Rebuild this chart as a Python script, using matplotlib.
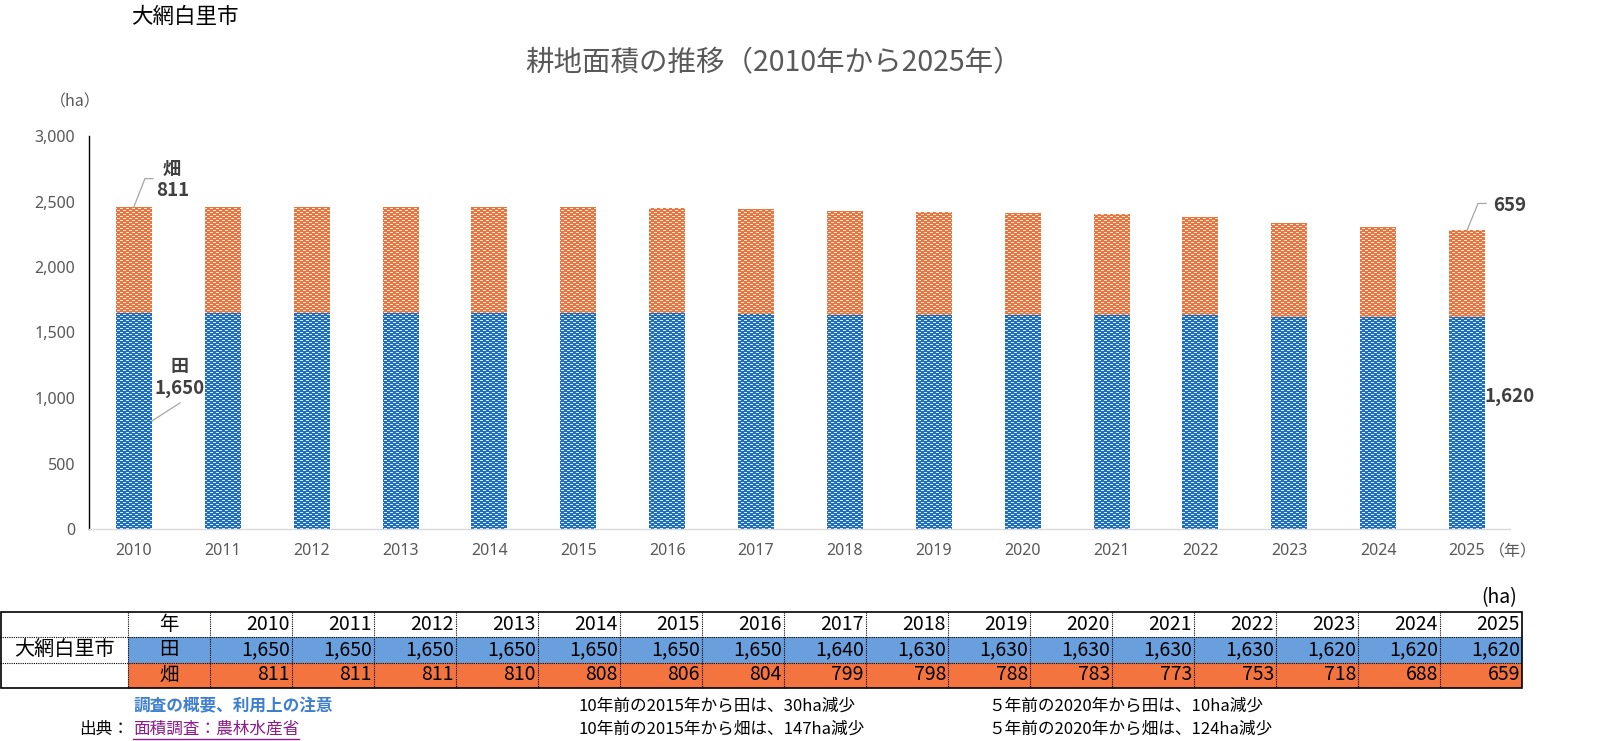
import numpy as np
import matplotlib
matplotlib.use('Agg')
import matplotlib.pyplot as plt

# ---------------- data ----------------
years = [2010, 2011, 2012, 2013, 2014, 2015, 2016, 2017,
         2018, 2019, 2020, 2021, 2022, 2023, 2024, 2025]
paddy = [1650, 1650, 1650, 1650, 1650, 1650, 1650, 1640,
         1630, 1630, 1630, 1630, 1630, 1620, 1620, 1620]   # 田
field = [811, 811, 811, 810, 808, 806, 804, 799,
         798, 788, 783, 773, 753, 718, 688, 659]           # 畑
yticks = [0, 500, 1000, 1500, 2000, 2500, 3000]
city = '大網白里市'
title = '耕地面積の推移（2010年から2025年）'
notes = ['10年前の2015年から田は、30ha減少', '10年前の2015年から畑は、147ha減少',
         '５年前の2020年から田は、10ha減少', '５年前の2020年から畑は、124ha減少']

CJK = ['Noto Sans CJK JP', 'DejaVu Sans']
plt.rcParams['font.family'] = CJK

W, H = 1604, 741
fig = plt.figure(figsize=(W / 100, H / 100), dpi=100)
fig.patch.set_facecolor('white')

BLUE = '#1f6fbf'
ORANGE = '#e9753f'
TBLUE = '#6a9fdd'
TORANGE = '#f47440'
GRAY = '#595959'

ax = fig.add_axes([89 / W, 212 / H, 1421 / W, 393 / H])
x = np.arange(len(years))
bw = 0.405
bars1 = ax.bar(x, paddy, width=bw, color=BLUE, linewidth=0, zorder=2)
bars2 = ax.bar(x, field, bottom=paddy, width=bw, color=ORANGE, linewidth=0, zorder=2)

ax.set_xlim(-0.506, 15.484)
ax.set_ylim(0, 3000)
ax.set_yticks(yticks)
ax.set_yticklabels([f'{v:,}' for v in yticks], family='Noto Sans', fontsize=11.5, color=GRAY)
ax.set_xticks(x)
ax.set_xticklabels([str(y) for y in years], family='Noto Sans', fontsize=11.5, color=GRAY)
ax.tick_params(axis='y', length=0, pad=10)
ax.tick_params(axis='x', length=0, pad=10)
for s in ['top', 'right']:
    ax.spines[s].set_visible(False)
ax.spines['left'].set_color('black')
ax.spines['left'].set_linewidth(1.0)
ax.spines['bottom'].set_color('#d9d9d9')
ax.spines['bottom'].set_linewidth(1.0)

# fine white dash texture at figure-pixel resolution, clipped to each bar
yy, xx = np.mgrid[0:H, 0:W]
mask = ((yy % 4 == 0) & (xx % 6 < 3)) | ((yy % 4 == 2) & ((xx + 3) % 6 < 3))
tex = np.zeros((H, W, 4))
tex[mask] = [1, 1, 1, 0.85]
for p in list(bars1) + list(bars2):
    im = fig.figimage(tex, xo=0, yo=0, zorder=5)
    im.set_clip_path(p)

# ---------------- overlay in pixel coords ----------------
ov = fig.add_axes([0, 0, 1, 1], zorder=10)
ov.set_xlim(0, W)
ov.set_ylim(H, 0)
ov.axis('off')
ov.patch.set_alpha(0)


def to_px(xd, yd):
    px, py = ax.transData.transform((xd, yd))
    return px, H - py


LC = '#a6a6a6'
AC = '#404040'
# 畑 2010
px, py = to_px(0, paddy[0] + field[0])
ov.plot([px, px + 11, px + 19], [py, py - 28, py - 28], color=LC, lw=0.9)
ov.text(px + 38, py - 37, '畑', ha='center', va='center', fontsize=13, color=AC, fontweight='bold')
ov.text(px + 39, py - 16, f'{field[0]:,}', ha='center', va='center', fontsize=13.5, color=AC,
        fontweight='bold')
# 田 2010
px, py = to_px(bw / 2, paddy[0] / 2)
ov.plot([px, px + 28], [py, py - 18], color=LC, lw=0.9)
ov.text(px + 28, py - 54, '田', ha='center', va='center', fontsize=13, color=AC, fontweight='bold')
ov.text(px + 28, py - 32, f'{paddy[0]:,}', ha='center', va='center', fontsize=13.5, color=AC,
        fontweight='bold')
# 畑 2025
px, py = to_px(15, paddy[15] + field[15])
ov.plot([px, px + 11, px + 19], [py, py - 27, py - 27], color=LC, lw=0.9)
ov.text(px + 26, py - 25, f'{field[15]:,}', ha='left', va='center', fontsize=13.5, color=AC,
        fontweight='bold')
# 田 2025
px, py = to_px(15 + bw / 2, paddy[15] / 2)
ov.text(px, py - 26, f'{paddy[15]:,}', ha='left', va='center', fontsize=13.5, color=AC,
        fontweight='bold')

# titles and units
ov.text(131, 17, city, ha='left', va='center', fontsize=15.5, color='black')
ov.text(774, 63, title, ha='center', va='center', fontsize=20.5, color=GRAY)
ov.text(50, 102, '（ha）', ha='left', va='center', fontsize=11.5, color=GRAY)
ov.text(1489, 552, '（年）', ha='left', va='center', fontsize=11.5, color=GRAY)

# ---------------- table ----------------
TL, TR = 0, 1522
rows = [612, 637, 663, 688]
c0, c1 = 128, 210
cw = 82
ov.add_patch(plt.Rectangle((c0, rows[1]), TR - c0, rows[2] - rows[1], facecolor=TBLUE, edgecolor='none'))
ov.add_patch(plt.Rectangle((c0, rows[2]), TR - c0, rows[3] - rows[2], facecolor=TORANGE, edgecolor='none'))
dot = (0, (1, 1))
for r in rows[1:3]:
    ov.plot([TL, TR], [r, r], color='black', lw=0.8, ls=dot)
for i in range(len(years)):
    xv = c1 + i * cw
    ov.plot([xv, xv], [rows[0], rows[3]], color='black', lw=0.8, ls=dot)
ov.plot([c0, c0], [rows[0], rows[3]], color='black', lw=0.8, ls=dot)
ov.add_patch(plt.Rectangle((TL + 0.5, rows[0]), TR - TL - 0.5, rows[3] - rows[0],
                           facecolor='none', edgecolor='black', lw=1.2))

TF = 14
ov.text(1517, 598, '(ha)', ha='right', va='center', fontsize=TF, color='black')
ov.text(64, 650, city, ha='center', va='center', fontsize=14.5, color='black')
ov.text(169, 625, '年', ha='center', va='center', fontsize=TF, color='black')
ov.text(169, 650, '田', ha='center', va='center', fontsize=TF, color='black')
ov.text(169, 675, '畑', ha='center', va='center', fontsize=TF, color='black')
for i, yv in enumerate(years):
    xr = c1 + (i + 1) * cw - 2
    ov.text(xr, 625, str(yv), ha='right', va='center', fontsize=TF, color='black')
    ov.text(xr, 650, f'{paddy[i]:,}', ha='right', va='center', fontsize=TF, color='black')
    ov.text(xr, 675, f'{field[i]:,}', ha='right', va='center', fontsize=TF, color='black')

# ---------------- footer ----------------
FF = 12
ov.text(133, 706, '調査の概要、利用上の注意', ha='left', va='center', fontsize=FF,
        color='#3f7fcf', fontweight='bold')
ov.text(79, 729, '出典：', ha='left', va='center', fontsize=FF, color='black')
link = ov.text(133, 729, '面積調査：農林水産省', ha='left', va='center', fontsize=FF, color='#8b1a8b')
ov.text(578, 706, notes[0], ha='left', va='center', fontsize=FF, color='black')
ov.text(578, 729, notes[1], ha='left', va='center', fontsize=FF, color='black')
ov.text(988, 706, notes[2], ha='left', va='center', fontsize=FF, color='black')
ov.text(988, 729, notes[3], ha='left', va='center', fontsize=FF, color='black')

fig.canvas.draw()
bb = link.get_window_extent(fig.canvas.get_renderer())
ov.plot([bb.x0, bb.x1], [H - bb.y0 + 1, H - bb.y0 + 1], color='#8b1a8b', lw=1)

fig.savefig('out.png', dpi=100, facecolor='white')
